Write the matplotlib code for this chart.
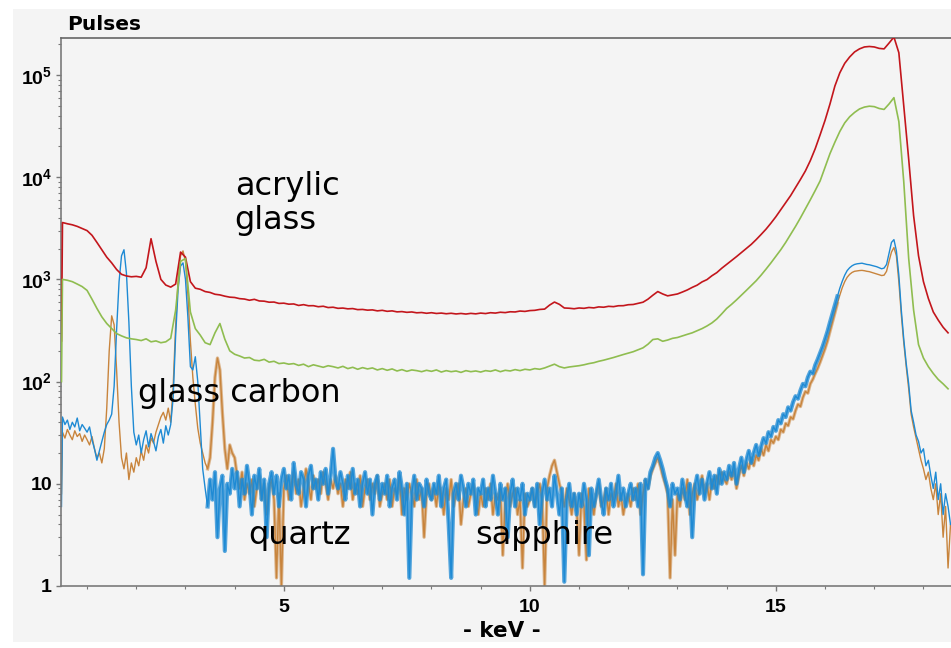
import numpy as np
import matplotlib
matplotlib.use("Agg")
import matplotlib.pyplot as plt
from matplotlib.patches import Rectangle
from matplotlib.ticker import MultipleLocator, NullFormatter, LogLocator

plt.rcParams['font.family'] = ['Liberation Sans', 'DejaVu Sans']
plt.rcParams['mathtext.fontset'] = 'custom'
plt.rcParams['mathtext.rm'] = 'Liberation Sans'
plt.rcParams['mathtext.bf'] = 'Liberation Sans:bold'

# energy grids (keV): noisy spectra every 0.05 keV, smooth ones every 0.1 keV,
# each starting with one point right at the left edge of the detector range
x_fine = np.concatenate([[0.48], np.round(np.arange(0.5, 18.551, 0.05), 2)])
x_coarse = np.concatenate([[0.48], np.round(np.arange(0.5, 18.51, 0.1), 1)])

# acrylic glass (red), one row per keV
acrylic = [
    250,
    3600, 3500, 3420, 3300, 3150,
    3000, 2700, 2300, 1950, 1650, 1450, 1250, 1120, 1080, 1060,
    1070, 1050, 1300, 2500, 1500, 1000, 880, 840, 900, 1850,
    1650, 950, 820, 800, 760, 745, 715, 705, 685, 670,
    665, 648, 642, 625, 638, 615, 612, 598, 600, 582,
    585, 572, 575, 556, 566, 552, 553, 540, 546, 530,
    534, 521, 524, 515, 518, 506, 508, 500, 503, 492,
    498, 487, 492, 481, 484, 476, 480, 471, 474, 466,
    472, 464, 468, 461, 466, 459, 464, 458, 465, 460,
    468, 463, 472, 468, 477, 473, 482, 480, 490, 486,
    495, 498, 508, 512, 560, 600, 570, 525, 522, 516,
    525, 521, 531, 526, 538, 534, 545, 541, 552, 553,
    565, 568, 583, 598, 640, 700, 760, 720, 690, 705,
    720, 752, 788, 835, 878, 945, 995, 1085, 1165, 1285,
    1400, 1530, 1670, 1830, 2000, 2200, 2450, 2750, 3100, 3550,
    4100, 4800, 5600, 6600, 7900, 9500, 11500, 14500, 19000, 26000,
    36000, 52000, 78000, 105000, 130000, 150000, 168000, 180000, 188000, 190000,
    188000, 182000, 180000, 205000, 235000, 165000, 50000, 15000, 4200, 1700,
    950, 650, 480, 400, 340, 300,
]

# glass carbon (green)
glass_carbon = [
    100,
    1000, 980, 950, 900, 850,
    780, 640, 520, 430, 370, 330, 295, 280, 268, 262,
    258, 252, 262, 245, 250, 240, 245, 265, 500, 1500,
    1600, 480, 330, 285, 240, 230, 300, 370, 260, 200,
    185, 178, 170, 172, 162, 160, 165, 155, 158, 150,
    152, 148, 150, 144, 148, 140, 146, 142, 138, 143,
    140, 136, 141, 134, 138, 132, 137, 133, 136, 130,
    134, 129, 133, 127, 131, 126, 130, 128, 125, 129,
    126, 130, 124, 128, 125, 127, 123, 128, 125, 127,
    124, 128, 126, 130, 125, 129, 127, 131, 128, 132,
    130, 134, 132, 136, 142, 148, 140, 136, 139, 141,
    143, 146, 150, 153, 158, 162, 167, 172, 178, 184,
    190, 196, 205, 214, 232, 258, 262, 248, 255, 265,
    270, 280, 290, 300, 315, 330, 350, 375, 410, 460,
    520, 570, 630, 700, 780, 870, 970, 1100, 1260, 1450,
    1680, 1950, 2300, 2750, 3300, 4000, 4900, 6000, 7400, 9200,
    12500, 17000, 22000, 28000, 34000, 39000, 43000, 46500, 48500, 49500,
    49000, 47000, 46000, 52000, 60000, 35000, 9000, 1600, 500, 230,
    170, 140, 120, 105, 95, 85,
]

# quartz (orange), one row per keV
quartz = [
    8,
    32, 28, 34, 30, 27, 33, 29, 31, 26, 30,
    27, 24, 29, 22, 18, 20, 16, 22, 55, 200, 440, 360, 130, 40, 18, 14, 20, 11, 16, 13,
    18, 15, 21, 17, 24, 20, 28, 25, 32, 38, 45, 50, 42, 55, 40, 90, 350, 1000, 1700, 1900,
    1500, 700, 250, 110, 60, 35, 25, 20, 16, 14, 18, 40, 110, 170, 130, 50, 22, 14, 24, 20,
    18, 12, 9, 13, 7, 10, 8, 11, 6, 9, 12, 7, 10, 5, 9, 11, 7, 1.2, 8, 1.0,
    9, 12, 7, 10, 13, 8, 11, 6, 9, 14, 10, 7, 12, 9, 11, 8, 13, 10, 7, 11,
    9, 12, 8, 10, 6, 11, 9, 13, 7, 10, 8, 12, 6, 9, 11, 7, 10, 8, 12, 6,
    8, 10, 7, 11, 6, 9, 8, 12, 5, 9, 7, 10, 8, 6, 11, 7, 9, 3, 8, 10,
    7, 9, 6, 10, 8, 5, 9, 7, 11, 6, 8, 10, 4, 7, 9, 6, 8, 10, 7, 5,
    8, 6, 9, 7, 10, 5, 8, 7, 9, 2, 7, 10, 6, 8, 9, 5, 7, 1.5, 8, 6,
    7, 9, 6, 8, 10, 7, 1.0, 9, 12, 15, 17, 13, 10, 8, 6, 9, 7, 5, 8, 6,
    2, 8, 6, 1.8, 9, 7, 5, 8, 10, 6, 7, 9, 5, 8, 7, 10, 6, 8, 5, 7,
    8, 6, 9, 7, 10, 5, 8, 11, 9, 12, 14, 16, 18, 15, 12, 10, 8, 1.2, 7, 2,
    8, 6, 9, 7, 11, 5, 8, 10, 7, 9, 12, 8, 10, 7, 11, 9, 12, 10, 13, 11,
    10, 13, 11, 14, 9, 12, 15, 12, 16, 14, 18, 15, 19, 17, 22, 19, 24, 21, 27, 25,
    29, 27, 34, 32, 39, 37, 45, 43, 52, 60, 57, 70, 80, 77, 95, 105, 120, 135, 155, 180,
    210, 250, 310, 380, 470, 580, 700, 830, 950, 1050, 1120, 1170, 1200, 1210, 1220, 1225, 1215, 1200, 1190, 1170,
    1150, 1130, 1110, 1090, 1100, 1200, 1500, 1850, 2050, 1700, 950, 450, 240, 140, 85, 48, 36, 28, 22, 17,
    14, 11, 13, 9, 7, 10, 5, 8, 3, 6, 1.5, 4,
]

# sapphire (blue)
sapphire = [
    6,
    45, 38, 42, 34, 40, 36, 44, 33, 38, 35,
    32, 36, 27, 22, 17, 21, 26, 32, 38, 42, 48, 90, 320, 950, 1700, 1950, 1150, 380, 90, 32,
    24, 30, 20, 27, 33, 23, 31, 26, 21, 29, 34, 25, 37, 30, 38, 70, 280, 800, 1350, 1450,
    1000, 420, 140, 130, 175, 100, 38, 14, 9, 6, 11, 7, 13, 3, 9, 12, 2.2, 10, 8, 14,
    9, 13, 6, 11, 8, 15, 10, 5, 12, 9, 14, 7, 11, 3, 10, 13, 8, 12, 6, 11,
    14, 9, 12, 7, 16, 10, 8, 13, 11, 6, 12, 15, 9, 11, 7, 13, 10, 14, 8, 12,
    22, 11, 9, 13, 10, 7, 12, 9, 14, 8, 11, 6, 10, 13, 8, 11, 5, 10, 12, 7,
    10, 8, 12, 6, 9, 11, 7, 13, 9, 5, 10, 1.2, 8, 12, 7, 10, 9, 6, 11, 8,
    7, 10, 8, 12, 6, 9, 11, 4, 1.2, 8, 10, 7, 12, 9, 6, 10, 8, 11, 5, 9,
    8, 11, 6, 9, 7, 12, 8, 5, 10, 7, 9, 3, 8, 11, 6, 9, 7, 10, 5, 8,
    7, 9, 6, 10, 4, 8, 11, 7, 9, 6, 12, 8, 5, 9, 1.1, 7, 10, 6, 8, 5,
    8, 6, 10, 7, 2, 9, 6, 8, 11, 7, 5, 9, 7, 10, 6, 8, 12, 7, 9, 6,
    8, 10, 7, 9, 6, 10, 1.3, 11, 9, 13, 15, 18, 20, 17, 14, 11, 9, 6, 10, 8,
    9, 7, 11, 8, 6, 10, 3, 9, 12, 8, 11, 7, 10, 13, 9, 12, 8, 14, 10, 13,
    11, 15, 12, 16, 10, 14, 18, 13, 17, 21, 16, 20, 24, 19, 23, 28, 25, 32, 29, 36,
    33, 42, 39, 48, 45, 56, 52, 63, 72, 68, 82, 95, 90, 110, 125, 120, 145, 165, 190, 220,
    260, 310, 380, 460, 560, 680, 820, 960, 1100, 1220, 1300, 1360, 1400, 1420, 1430, 1440, 1420, 1400, 1390, 1370,
    1350, 1330, 1300, 1270, 1290, 1400, 1800, 2300, 2450, 1900, 1100, 500, 260, 150, 95, 52, 40, 30, 26, 20,
    22, 15, 17, 12, 9, 13, 7, 10, 5, 8, 6, 4,
]

labels = [("acrylic\nglass", 4.0, 11500), ("glass carbon", 2.03, 63),
          ("quartz", 4.27, 2.55), ("sapphire", 8.88, 2.55)]

fig = plt.figure(figsize=(9.51, 6.48), dpi=100)
fig.patches.append(Rectangle((13 / 951, 1 - 642 / 648), 938 / 951, 633 / 648,
                             transform=fig.transFigure, facecolor='#f4f4f4',
                             edgecolor='none', zorder=-5))
ax = fig.add_axes([61 / 951, 1 - 586 / 648, 1 - 61 / 951, 548 / 648])
ax.set_facecolor('#f4f4f4')

ax.plot(x_coarse, acrylic, color='#c3161c', lw=1.2, zorder=3)
ax.plot(x_coarse, glass_carbon, color='#8fbd50', lw=1.2, zorder=3)
ax.plot(x_fine, quartz, color='#c8843c', lw=1.0, zorder=2)
ax.plot(x_fine, sapphire, color='#1e8ad4', lw=1.0, zorder=2.5)

# the counting noise of the two low spectra shows as a dense band
noisy = (x_fine > 3.4) & (x_fine < 16.3)
ax.plot(x_fine, np.where(noisy, quartz, np.nan), color='#c8843c', lw=2.4,
        alpha=0.55, zorder=2)
ax.plot(x_fine, np.where(noisy, sapphire, np.nan), color='#1e8ad4', lw=3.0,
        alpha=0.75, zorder=2.5)

for txt, x, y in labels:
    va = 'top' if '\n' in txt else 'baseline'
    ax.text(x, y, txt, fontsize=23, family='DejaVu Sans', ha='left', va=va,
            linespacing=1.12, zorder=5)

ax.set_yscale('log')
ax.set_xlim(0.47, 18.56)
ax.set_ylim(1, 2.3e5)

ax.set_yticks([1, 10, 100, 1e3, 1e4, 1e5],
              ['1', '10', r'$\mathbf{10^2}$', r'$\mathbf{10^3}$',
               r'$\mathbf{10^4}$', r'$\mathbf{10^5}$'])
ax.yaxis.set_minor_locator(LogLocator(base=10, subs=np.arange(2, 10)))
ax.yaxis.set_minor_formatter(NullFormatter())
ax.set_xticks([5, 10, 15], ['5', '10', '15'])
ax.xaxis.set_minor_locator(MultipleLocator(1))

ax.tick_params(axis='both', which='major', labelsize=14, length=3.5, width=1,
               color='#777777')
ax.tick_params(axis='y', which='major', pad=3)
ax.tick_params(axis='x', which='major', pad=6)
ax.tick_params(axis='both', which='minor', length=2.5, width=0.8, color='#777777')
for lab in ax.get_xticklabels() + ax.get_yticklabels():
    lab.set_fontweight('bold')

for side in ['left', 'bottom']:
    ax.spines[side].set_color('#7a7a7a')
    ax.spines[side].set_linewidth(1.2)
ax.spines['top'].set_color('#666666')
ax.spines['top'].set_linewidth(1.2)
ax.spines['right'].set_visible(False)

fig.text(67 / 951, 1 - 25 / 648, "Pulses", fontsize=14.5, fontweight='bold',
         family='DejaVu Sans', ha='left', va='center')
fig.text(502 / 951, 1 - 631 / 648, "- keV -", fontsize=15.5, fontweight='bold',
         family='DejaVu Sans', ha='center', va='center')

plt.savefig("out.png", dpi=100, facecolor='white')
plt.close()
